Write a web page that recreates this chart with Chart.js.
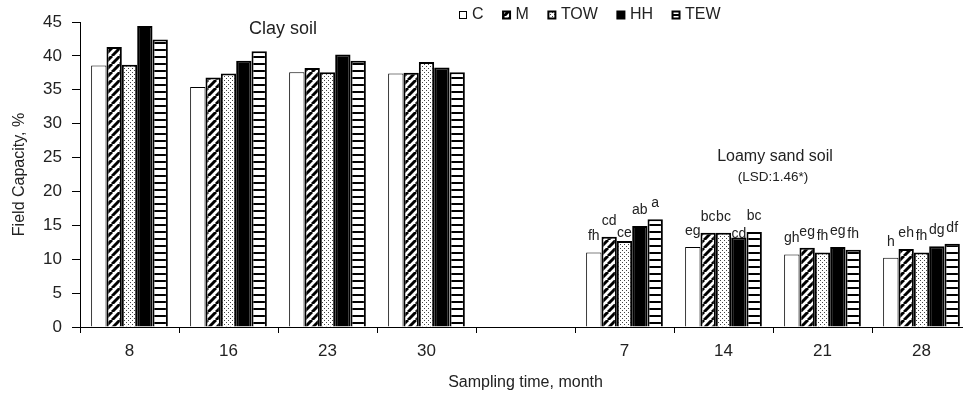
<!DOCTYPE html>
<html>
<head>
<meta charset="utf-8">
<script src="https://cdn.jsdelivr.net/npm/chart.js@4.4.1/dist/chart.umd.min.js"></script>
<style>
  html, body { margin: 0; padding: 0; overflow: hidden; background: #fff; }
</style>
</head>
<body>
<canvas id="fcChart" width="972" height="402"></canvas>
<script>
// sampling months (clay soil first, then a gap, then loamy sand soil)
const months = ['8', '16', '23', '30', '', '7', '14', '21', '28'];
const seriesNames = ['C', 'M', 'TOW', 'HH', 'TEW'];

// field capacity, %
const cValues   = [38.6, 35.4, 37.6, 37.4, null, 11.0, 11.8, 10.7, 10.2];
const mValues   = [41.3, 36.8, 38.2, 37.5, null, 13.3, 13.9, 11.7, 11.5];
const towValues = [38.7, 37.4, 37.6, 39.1, null, 12.7, 13.9, 11.0, 11.0];
const hhValues  = [44.4, 39.3, 40.2, 38.3, null, 14.9, 13.2, 11.8, 11.9];
const tewValues = [42.4, 40.7, 39.3, 37.6, null, 15.9, 14.0, 11.4, 12.3];

// significance letters (loamy sand soil only)
const cLetters   = ['', '', '', '', '', 'fh', 'eg', 'gh', 'h'];
const mLetters   = ['', '', '', '', '', 'cd', 'bc', 'eg', 'eh'];
const towLetters = ['', '', '', '', '', 'ce', 'bc', 'fh', 'fh'];
const hhLetters  = ['', '', '', '', '', 'ab', 'cd', 'eg', 'dg'];
const tewLetters = ['', '', '', '', '', 'a', 'bc', 'fh', 'df'];

const FONT = '"Liberation Sans", Arial, sans-serif';
Chart.defaults.font.family = FONT;
Chart.defaults.color = '#222';

const canvas = document.getElementById('fcChart');
const ctx = canvas.getContext('2d');

// small tiles used as bar fills
function makePattern(w, h, draw) {
  const tile = document.createElement('canvas');
  tile.width = w;
  tile.height = h;
  const g = tile.getContext('2d');
  g.fillStyle = '#fff';
  g.fillRect(0, 0, w, h);
  draw(g);
  return ctx.createPattern(tile, 'repeat');
}

const hatchFill = makePattern(8, 8, g => {
  g.strokeStyle = '#000';
  g.lineWidth = 3;
  for (const o of [-8, 0, 8]) {
    g.beginPath();
    g.moveTo(o, 8);
    g.lineTo(o + 8, 0);
    g.stroke();
  }
});

const dotFill = makePattern(4, 4, g => {
  g.fillStyle = '#444';
  g.fillRect(0, 0, 1, 1);
  g.fillRect(2, 2, 1, 1);
});

const stripeFill = makePattern(4, 7, g => {
  g.fillStyle = '#000';
  g.fillRect(0, 0, 4, 2);
});

const letterSets = [cLetters, mLetters, towLetters, hhLetters, tewLetters];

// a couple of letters sit lower in the original figure
function letterLift(di, i) {
  if (di === 2 && i === 5) return 4;
  if (di === 3 && i === 6) return 0;
  return 12;
}

const annotations = {
  id: 'annotations',
  afterDatasetsDraw(chart) {
    const { ctx, scales: { x, y } } = chart;
    ctx.save();
    ctx.fillStyle = '#222';
    ctx.textAlign = 'center';

    ctx.textBaseline = 'alphabetic';
    ctx.font = '14px ' + FONT;
    chart.data.datasets.forEach((ds, di) => {
      chart.getDatasetMeta(di).data.forEach((bar, i) => {
        const txt = letterSets[di][i];
        if (!txt) return;
        ctx.fillText(txt, bar.x, bar.y - letterLift(di, i));
      });
    });

    ctx.textBaseline = 'middle';
    ctx.font = '18px ' + FONT;
    ctx.fillText('Clay soil', x.getPixelForValue(1.55), y.getPixelForValue(44));
    ctx.font = '16px ' + FONT;
    ctx.fillText('Loamy sand soil', x.getPixelForValue(6.52), y.getPixelForValue(25.1));
    ctx.font = '13.5px ' + FONT;
    ctx.fillText('(LSD:1.46*)', x.getPixelForValue(6.5), y.getPixelForValue(22.1));
    ctx.restore();
  },
  afterDraw(chart) {
    // legend row across the top
    const { ctx } = chart;
    ctx.save();
    ctx.font = '16px ' + FONT;
    ctx.textBaseline = 'middle';
    ctx.textAlign = 'left';
    let px = 459;
    const cy = 15;
    chart.data.datasets.forEach(ds => {
      ctx.fillStyle = ds.backgroundColor;
      ctx.fillRect(px, cy - 4, 8, 8);
      ctx.strokeStyle = '#000';
      ctx.lineWidth = ds.borderWidth > 1 ? 2 : 1;
      ctx.strokeRect(px + 0.5, cy - 3.5, 7, 7);
      ctx.fillStyle = '#222';
      ctx.fillText(ds.label, px + 13, cy);
      px += 13 + ctx.measureText(ds.label).width + 19;
    });
    ctx.restore();
  }
};

new Chart(ctx, {
  type: 'bar',
  data: {
    labels: months,
    datasets: [
      { label: seriesNames[0], data: cValues, backgroundColor: '#fff', borderColor: '#000', borderWidth: 1 },
      { label: seriesNames[1], data: mValues, backgroundColor: hatchFill, borderColor: '#000', borderWidth: 2 },
      { label: seriesNames[2], data: towValues, backgroundColor: dotFill, borderColor: '#000', borderWidth: 2 },
      { label: seriesNames[3], data: hhValues, backgroundColor: '#000', borderColor: '#000', borderWidth: 2 },
      { label: seriesNames[4], data: tewValues, backgroundColor: stripeFill, borderColor: '#000', borderWidth: 2 }
    ]
  },
  options: {
    responsive: false,
    animation: false,
    layout: { padding: { top: 22, right: 1, left: 0, bottom: 0 } },
    datasets: { bar: { barPercentage: 1, categoryPercentage: 0.775 } },
    plugins: {
      legend: { display: false },
      tooltip: { enabled: false }
    },
    scales: {
      x: {
        grid: { display: true, drawOnChartArea: false, drawTicks: true, tickLength: 6, color: '#000', offset: true },
        border: { display: true, color: '#000', width: 1 },
        ticks: { font: { size: 17 }, color: '#222', padding: 8 },
        title: { display: true, text: 'Sampling time, month', font: { size: 16 }, color: '#222', padding: { top: 0, bottom: 10 } },
        afterFit(scale) { scale.height = 75; }
      },
      y: {
        min: 0,
        max: 45,
        grid: { display: true, drawOnChartArea: false, tickLength: 8, color: '#000' },
        border: { display: true, color: '#000', width: 1 },
        ticks: { stepSize: 5, font: { size: 17 }, color: '#222', padding: 10 },
        title: { display: true, text: 'Field Capacity, %', font: { size: 16 }, color: '#222', padding: { top: 10, bottom: 0 } },
        afterFit(scale) { scale.width = 80; }
      }
    }
  },
  plugins: [annotations]
});
</script>
</body>
</html>
